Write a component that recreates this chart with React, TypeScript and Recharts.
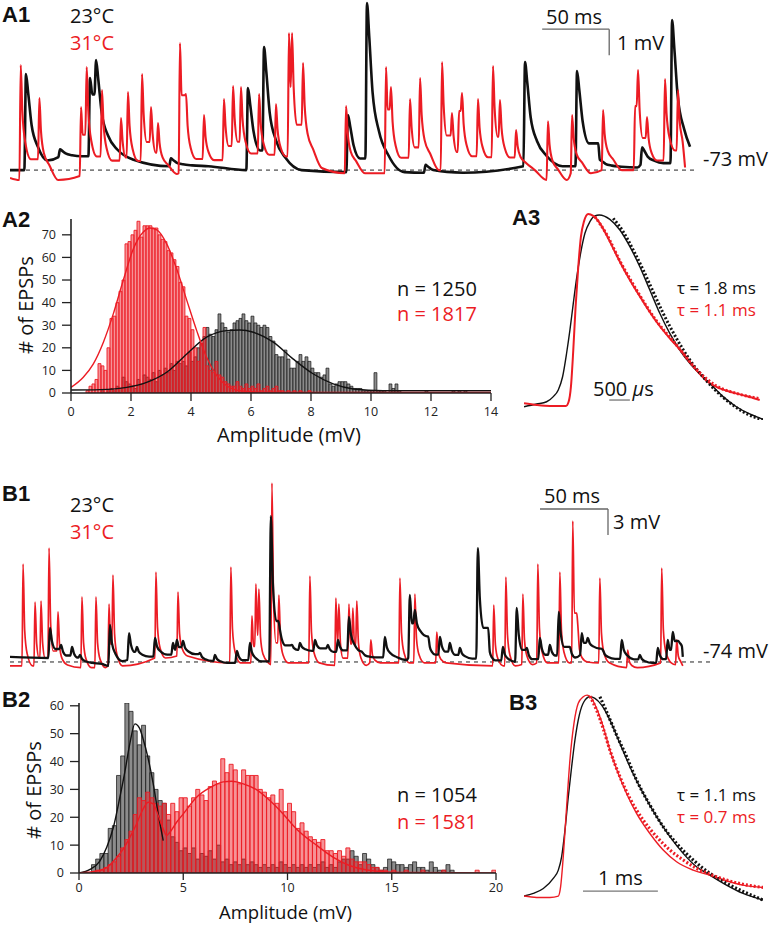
import React from 'react'
import { LineChart, Line, XAxis, YAxis, ReferenceLine, ComposedChart, Bar } from 'recharts'

const RED = '#ec1c24'
const INK = '#111111'
const FONT = '"Open Sans", "DejaVu Sans", sans-serif'
const BOLD = '"Liberation Sans", Arial, sans-serif'

type Ev = [number, number, number] // time (ms), baseline (mV), peak (mV)
type Pt = [number, number]

// ---- A1: spontaneous EPSPs, 23 vs 31 degC ----
const a1Black: Ev[] = [
  [11.9, -73.0, -69.31], [37.3, -72.5, -72.2], [59.7, -72.6, -69.46], [64.2, -72.6, -68.77],
  [120.0, -72.85, -72.55], [177.5, -73.0, -69.85], [189.5, -73.0, -68.27], [252.1, -73.08, -70.88],
  [266.3, -73.08, -66.58], [310.0, -73.1, -72.8], [384.2, -72.85, -68.85], [423.0, -72.85, -69.19],
  [440.0, -72.9, -72.6], [471.5, -72.8, -72.12], [493.9, -72.75, -67.23],
]
const a1Red: Ev[] = [
  [8.0, -73.38, -68.96], [21.9, -73.38, -70.23], [53.0, -73.23, -70.58], [57.2, -73.23, -69.04],
  [68.6, -73.23, -69.92], [82.8, -73.23, -71.0], [88.0, -73.23, -70.0], [98.5, -73.15, -69.31],
  [105.2, -73.15, -70.58], [110.4, -73.15, -71.19], [126.8, -73.12, -68.12], [131.3, -73.12, -70.08],
  [144.7, -73.0, -70.88], [159.6, -72.92, -70.27], [166.4, -72.92, -69.77], [172.3, -72.92, -69.81],
  [185.8, -72.92, -70.08], [198.4, -72.92, -70.46], [208.1, -72.92, -67.73], [210.4, -72.92, -67.73],
  [218.6, -72.92, -68.88], [250.7, -73.12, -70.54], [280.5, -73.12, -69.04], [284.2, -73.12, -69.81],
  [298.4, -73.0, -70.27], [305.9, -73.0, -69.46], [322.3, -73.0, -68.85], [329.7, -73.0, -70.81],
  [335.0, -73.0, -70.73], [337.2, -73.0, -70.04], [349.1, -73.0, -70.27], [360.3, -73.0, -69.0],
  [365.5, -73.0, -70.31], [377.5, -73.0, -71.46], [401.3, -73.38, -71.12], [419.3, -73.12, -70.88],
  [442.4, -73.0, -70.69], [466.3, -73.0, -70.54], [468.5, -73.0, -69.15], [475.2, -73.0, -70.96],
  [488.6, -72.85, -69.5], [498.3, -72.85, -69.92],
]
const a1BlackEnds: Pt[] = [[0, -73.0], [507.3, -72.1]]
const a1RedEnds: Pt[] = [[0, -73.3], [503.6, -72.9]]
// EPSP waveform: [ms from peak, fraction of peak]
const a1BlackShape: Pt[] = [[-1.2, 0], [0, 1], [1.7, 0.8], [4.2, 0.47], [9, 0.24], [16, 0.1], [28, 0]]
const a1RedShape: Pt[] = [[-1.0, 0], [0, 1], [1.2, 0.6], [3.5, 0.32], [7.5, 0.18], [14, 0]]

// ---- B1 ----
const b1Black: Ev[] = [
  [29.4, -73.54, -70.08], [37.5, -73.77, -72.04], [45.6, -74.0, -72.27], [51.5, -74.23, -73.19],
  [73.5, -74.46, -69.73], [87.5, -73.77, -70.66], [93.3, -73.54, -72.27], [106.6, -73.42, -71.23],
  [119.8, -73.54, -71.81], [122.7, -73.31, -71.46], [127.2, -73.31, -71.58], [139.7, -74.0, -72.96],
  [150.7, -74.23, -73.19], [166.8, -74.23, -72.73], [176.4, -74.23, -71.81], [191.8, -74.46, -57.17],
  [198.5, -72.85, -70.31], [207.3, -72.85, -72.04], [213.2, -72.85, -71.81], [224.2, -72.85, -71.46],
  [233.7, -73.19, -72.04], [241.1, -73.19, -71.46], [249.2, -73.31, -68.81], [259.5, -73.54, -72.96],
  [275.6, -73.77, -71.12], [294.0, -73.54, -66.27], [297.7, -71.46, -68.0], [308.7, -73.54, -72.27],
  [316.1, -73.54, -71.12], [323.4, -73.77, -71.81], [330.8, -73.77, -72.39], [344.0, -74.0, -60.86],
  [352.8, -74.23, -72.85], [362.4, -74.23, -72.27], [372.6, -74.69, -67.77], [380.0, -74.23, -72.39],
  [389.6, -74.0, -71.23], [396.9, -73.77, -72.04], [403.5, -74.0, -68.23], [411.6, -74.0, -72.27],
  [420.4, -73.19, -70.66], [424.8, -72.62, -71.23], [435.9, -73.77, -72.62], [449.8, -74.0, -71.46],
  [463.1, -74.23, -73.19], [476.3, -74.23, -72.39], [483.6, -74.0, -71.46], [487.3, -72.85, -70.54],
  [492.5, -72.62, -71.81],
]
const b1Red: Ev[] = [
  [9.6, -74.45, -62.7], [18.4, -74.45, -67.08], [22.8, -74.45, -66.97], [28.7, -74.35, -60.86],
  [35.3, -74.35, -68.23], [52.9, -74.65, -66.5], [63.2, -74.65, -66.5], [72.8, -74.45, -67.31],
  [75.7, -74.45, -63.97], [107.3, -73.54, -63.62], [123.5, -73.31, -65.93], [162.4, -74.1, -63.05],
  [177.9, -74.1, -68.69], [180.8, -74.1, -65.0], [183.0, -74.1, -65.58], [192.6, -74.3, -53.36],
  [197.7, -74.1, -66.27], [220.5, -74.1, -64.08], [239.6, -74.4, -66.62], [241.8, -74.4, -67.31],
  [249.2, -74.4, -67.31], [252.1, -74.4, -67.77], [255.0, -74.4, -66.97], [265.3, -74.1, -71.46],
  [286.7, -74.1, -64.31], [297.7, -74.1, -66.16], [313.8, -74.1, -70.54], [355.7, -74.45, -67.43],
  [364.6, -74.45, -64.2], [377.1, -74.3, -66.16], [388.1, -74.1, -62.7], [404.3, -74.1, -63.62],
  [413.8, -74.1, -57.74], [417.5, -74.0, -69.73], [433.7, -74.1, -64.31], [454.2, -74.65, -72.62],
  [479.2, -74.1, -63.16], [490.2, -74.3, -71.46],
]
const b1BlackEnds: Pt[] = [[0, -73.42], [494.7, -73.42]]
const b1RedEnds: Pt[] = [[0, -74.45], [494.7, -74.45]]
const b1BlackShape: Pt[] = [[-1.2, 0], [0, 1], [1.5, 0.55], [4, 0.3], [9, 0.12], [16, 0]]
const b1RedShape: Pt[] = [[-0.8, 0], [0, 1], [1.2, 0.35], [3, 0.12], [7, 0]]

// ---- A2 / B2 amplitude histograms (counts per bin) ----
const a2Bin = 0.1
const a2RedStart = 0.5
const a2Red = [
  1, 3, 4, 6, 13, 12, 10, 20, 33, 34,
  40, 45, 50, 66, 67, 70, 72, 76, 69, 74,
  74, 74, 73, 73, 70, 68, 67, 63, 62, 59,
  56, 49, 47, 34, 33, 28, 20, 14, 22, 29,
  12, 10, 9, 14, 8, 7, 5, 4, 3, 3,
  5, 3, 2, 4, 2, 3, 2, 4, 1, 2,
  3, 1, 2, 3, 1, 1, 0, 1, 0, 1,
  0, 1, 0, 0, 1,
]
const a2BlackStart = 1.0
const a2Black = [
  1, 0, 1, 2, 1, 3, 2, 7, 5, 4,
  3, 2, 6, 4, 8, 7, 6, 9, 5, 10,
  8, 11, 9, 13, 10, 14, 13, 14, 12, 18,
  14, 16, 20, 22, 25, 29, 26, 25, 28, 35,
  31, 29, 27, 28, 31, 32, 33, 35, 32, 31,
  34, 31, 30, 29, 30, 29, 25, 23, 17, 16,
  16, 19, 15, 11, 11, 14, 17, 14, 16, 14,
  11, 9, 9, 7, 8, 11, 4, 3, 4, 5,
  5, 5, 4, 3, 2, 2, 2, 1, 1, 1,
  1, 9, 1, 1, 1, 0, 4, 2, 4, 1,
  0, 0, 0, 0, 0, 0, 0, 0, 1, 0,
  0, 0, 0, 0, 0, 0, 0, 1, 0, 1,
  0, 1,
]
const a2RedFit: Pt[] = [
  [0, 2.5], [0.41, 7], [0.74, 12.8], [1.08, 22.5], [1.41, 35], [1.74, 49.8], [2.08, 63.8], [2.41, 71.2],
  [2.63, 73], [2.86, 72.2], [3.19, 66], [3.52, 55], [3.86, 41], [4.19, 27.6], [4.52, 15.8], [4.86, 7.7],
  [5.19, 3.2], [5.63, 1], [6.5, 0.3], [8, 0.2], [14, 0.2],
]
const a2BlackFit: Pt[] = [
  [0, 1.3], [0.97, 1.5], [1.86, 2.5], [2.52, 4.7], [3.19, 9.2], [3.86, 17.3], [4.52, 24.7], [5.19, 27.6],
  [5.63, 27.9], [6.08, 26.9], [6.74, 22.5], [7.41, 15], [8.08, 8.4], [8.74, 4], [9.41, 1.8], [10.41, 1], [14, 1],
]

const b2Bin = 0.2
const b2RedStart = 0.6
const b2Red = [
  0, 1, 1, 2, 3, 4, 6, 9, 12, 15,
  21, 27, 26, 29, 27, 25, 24, 25, 21, 25,
  22, 27, 27, 24, 27, 30, 28, 26, 31, 33,
  32, 41, 36, 39, 37, 32, 37, 35, 35, 35,
  30, 29, 27, 28, 25, 30, 22, 25, 22, 16,
  18, 15, 13, 12, 11, 12, 8, 8, 7, 8,
  6, 9, 5, 4, 4, 4, 3, 2, 2, 1,
  1, 0, 1, 0, 0, 1, 0, 0, 0, 1,
  0, 0, 0, 0, 1, 0, 0, 0, 0, 0,
  0, 0, 1, 0, 0, 0, 1,
]
const b2BlackStart = 0.6
const b2Black = [
  3, 5, 7, 7, 16, 17, 35, 42, 61, 58,
  51, 46, 53, 42, 36, 30, 26, 25, 19, 13,
  11, 8, 9, 7, 9, 5, 7, 6, 8, 5,
  10, 4, 5, 3, 4, 3, 5, 3, 4, 3,
  2, 3, 2, 3, 2, 4, 3, 2, 3, 2,
  3, 2, 3, 2, 3, 4, 2, 3, 2, 4,
  5, 5, 8, 6, 3, 7, 5, 3, 2, 1,
  2, 5, 4, 3, 3, 2, 3, 4, 2, 2,
  1, 4, 2, 1, 1, 3, 1,
]
const b2RedFit: Pt[] = [
  [0, 0], [0.85, 0.7], [1.33, 1.9], [1.8, 5.5], [2.12, 8.6], [2.44, 12.8], [2.76, 17.6], [3.0, 21.8],
  [3.32, 25.4], [3.56, 24.8], [3.8, 20.6], [4.04, 15.8], [4.2, 13.4], [4.36, 14.6], [4.68, 18.2],
  [5.0, 21.2], [5.64, 27.2], [6.28, 30.6], [6.92, 32.7], [7.32, 32.9], [7.88, 32], [8.51, 29.9],
  [9.15, 26], [9.79, 21.2], [10.43, 15.8], [11.4, 9.9], [12.2, 5.6], [13, 2.6], [13.8, 1.1],
  [15.4, 0.2], [19.9, 0],
]
const b2BlackFit: Pt[] = [
  [0, 0], [0.53, 1.3], [1.0, 4.3], [1.33, 9.2], [1.65, 16.4], [1.96, 27.2], [2.2, 36.3], [2.44, 46.5],
  [2.68, 53.5], [2.9, 52], [3.08, 48], [3.32, 41], [3.56, 32], [3.8, 21.2], [4.04, 11.6],
]

// ---- A3 / B3 normalised average EPSPs: [ms, fraction of peak] ----
const a3Black: Pt[] = [
  [0, -0.009], [0.306, 0.005], [0.548, 0.017], [0.71, 0.044], [0.83, 0.079], [0.935, 0.148], [1.032, 0.271],
  [1.113, 0.393], [1.194, 0.532], [1.274, 0.663], [1.371, 0.794], [1.476, 0.899], [1.597, 0.96], [1.718, 0.99],
  [1.823, 0.995], [2.081, 0.972], [2.323, 0.916], [2.565, 0.829], [2.806, 0.724], [3.048, 0.602], [3.29, 0.48],
  [3.532, 0.375], [3.774, 0.288], [4.016, 0.218], [4.258, 0.162], [4.5, 0.113], [4.823, 0.044], [5.145, -0.009],
  [5.468, -0.047], [5.79, -0.075],
]
const a3Red: Pt[] = [
  [0, 0.009], [0.306, 0], [0.629, -0.005], [1.016, -0.005], [1.081, 0.017], [1.137, 0.096], [1.194, 0.288],
  [1.25, 0.515], [1.315, 0.724], [1.379, 0.881], [1.452, 0.96], [1.556, 1.0], [1.677, 0.99], [1.839, 0.951],
  [2.0, 0.89], [2.161, 0.82], [2.323, 0.75], [2.565, 0.654], [2.887, 0.541], [3.21, 0.436], [3.532, 0.349],
  [3.855, 0.271], [4.177, 0.183], [4.419, 0.127], [4.742, 0.087], [5.065, 0.065], [5.387, 0.047], [5.71, 0.026],
]
const a3BlackFit: Pt[] = [
  [2.161, 0.977], [2.403, 0.907], [2.645, 0.812], [2.887, 0.707], [3.129, 0.593], [3.371, 0.48], [3.694, 0.349],
  [4.016, 0.236], [4.419, 0.127], [4.823, 0.04], [5.306, -0.035], [5.79, -0.079],
]
const a3RedFit: Pt[] = [
  [1.718, 0.986], [2.0, 0.894], [2.323, 0.754], [2.726, 0.602], [3.21, 0.44], [3.694, 0.314], [4.177, 0.187],
  [4.661, 0.1], [5.145, 0.061], [5.71, 0.033],
]
const b3Black: Pt[] = [
  [0, 0], [0.124, 0.013], [0.258, 0.038], [0.391, 0.089], [0.458, 0.13], [0.502, 0.197], [0.547, 0.331],
  [0.591, 0.498], [0.636, 0.649], [0.68, 0.783], [0.738, 0.908], [0.8, 0.975], [0.88, 1.0], [0.947, 0.992],
  [1.036, 0.958], [1.147, 0.883], [1.28, 0.766], [1.413, 0.649], [1.591, 0.515], [1.769, 0.398], [1.947, 0.298],
  [2.124, 0.214], [2.302, 0.147], [2.48, 0.105], [2.702, 0.055], [2.924, 0.013], [3.191, -0.02],
]
const b3Red: Pt[] = [
  [0, 0], [0.169, -0.007], [0.347, -0.007], [0.458, 0], [0.489, 0.047], [0.524, 0.197], [0.569, 0.448],
  [0.613, 0.682], [0.667, 0.866], [0.724, 0.967], [0.791, 1.0], [0.844, 1.008], [0.902, 0.992], [0.969, 0.941],
  [1.058, 0.849], [1.147, 0.732], [1.258, 0.615], [1.369, 0.515], [1.502, 0.415], [1.68, 0.314], [1.858, 0.231],
  [2.036, 0.172], [2.258, 0.13], [2.48, 0.105], [2.702, 0.077], [2.924, 0.055], [3.191, 0.043],
]
const b3BlackFit: Pt[] = [
  [1.013, 1.0], [1.102, 0.925], [1.236, 0.808], [1.369, 0.699], [1.502, 0.582], [1.68, 0.457], [1.858, 0.348],
  [2.036, 0.264], [2.258, 0.181], [2.48, 0.114], [2.702, 0.064], [2.924, 0.023], [3.191, -0.02],
]
const b3RedFit: Pt[] = [
  [0.88, 1.003], [0.969, 0.933], [1.058, 0.84], [1.147, 0.732], [1.28, 0.599], [1.413, 0.49], [1.591, 0.381],
  [1.769, 0.298], [1.947, 0.231], [2.124, 0.181], [2.302, 0.139], [2.48, 0.11], [2.702, 0.08], [2.924, 0.059],
  [3.191, 0.043],
]

// scale bars: anchor [t, v]
const a1ScaleAt: Pt = [397, -67.58]
const b1ScaleAt: Pt = [389.7, -56.35]
const a3ScaleAt: Pt = [2.065, 0.026]
const b3ScaleAt: Pt = [0.787, 0.025]

function buildTrace(events: Ev[], shape: Pt[], ends: Pt[]) {
  const pts = [{ t: ends[0][0], v: ends[0][1] }]
  const stop = ends[1][0]
  let carry = false
  events.forEach(([t, base, peak], i) => {
    const limit = i + 1 < events.length ? events[i + 1][0] + shape[0][0] : stop
    let cut = false
    shape.forEach(([dt, f], k) => {
      const tt = t + dt
      if (k > 0 && tt >= limit) { cut = true; return }
      if (tt >= stop) return
      const last = pts[pts.length - 1]
      let v = base + f * (peak - base)
      if (k === 0) {
        if (tt <= last.t) return
        if (carry) v = Math.max(v, last.v)
      }
      pts.push({ t: tt, v })
    })
    carry = cut
  })
  pts.push({ t: stop, v: ends[1][1] })
  return pts
}

const toTV = (a: Pt[]) => a.map(([t, v]) => ({ t, v }))

type Row = { x: number; red?: number; blk?: number }
function buildBins(bin: number, xMax: number, redStart: number, red: number[], blkStart: number, blk: number[]) {
  const rows: Row[] = []
  const n = Math.round(xMax / bin)
  for (let i = 0; i < n; i++) {
    const lo = i * bin
    const r = red[Math.round((lo - redStart) / bin)]
    const b = blk[Math.round((lo - blkStart) / bin)]
    if (r === undefined && b === undefined) continue
    rows.push({ x: Math.round((lo + bin / 2) * 1000) / 1000, red: r, blk: b })
  }
  return rows
}

const noDot = { dot: false, activeDot: false, isAnimationActive: false } as const

function Txt({ x, y, size = 20, color = INK, bold = false, children }: any) {
  return (
    <div
      style={{
        position: 'absolute', left: x, top: y, fontSize: size, lineHeight: `${size}px`, color,
        fontWeight: bold ? 700 : 400, fontFamily: bold ? BOLD : FONT, whiteSpace: 'nowrap',
      }}
    >
      {children}
    </div>
  )
}

function VLabel({ cx, cy, children }: any) {
  return (
    <div
      style={{
        position: 'absolute', left: cx - 70, top: cy - 10, width: 140, height: 20, lineHeight: '20px',
        textAlign: 'center', transform: 'rotate(-90deg)', fontSize: 20, fontFamily: FONT, color: INK,
      }}
    >
      {children}
    </div>
  )
}

function TraceChart({ x, y, width, height, xMax, yDomain, under, over, base, scale, dv, dt, underW, overW }: any) {
  return (
    <div style={{ position: 'absolute', left: x, top: y }}>
      <LineChart width={width} height={height} margin={{ top: 0, right: 0, bottom: 0, left: 0 }}>
        <XAxis type="number" dataKey="t" domain={[0, xMax]} hide allowDataOverflow />
        <YAxis type="number" domain={yDomain} hide allowDataOverflow />
        <ReferenceLine y={base} stroke="#222" strokeDasharray="4 4" strokeWidth={1} />
        <ReferenceLine segment={[{ x: scale[0], y: scale[1] }, { x: scale[0] + dt, y: scale[1] }]} stroke="#666" strokeWidth={1.3} ifOverflow="visible" />
        <ReferenceLine segment={[{ x: scale[0] + dt, y: scale[1] }, { x: scale[0] + dt, y: scale[1] - dv }]} stroke="#666" strokeWidth={1.3} ifOverflow="visible" />
        <Line data={under.data} dataKey="v" type="monotone" stroke={under.color} strokeWidth={underW} strokeLinejoin="round" {...noDot} />
        <Line data={over.data} dataKey="v" type="monotone" stroke={over.color} strokeWidth={overW} strokeLinejoin="round" {...noDot} />
      </LineChart>
    </div>
  )
}

function AvgChart({ x, y, width, height, xMax, yDomain, black, red, blackFit, redFit, scale, dt, redW, fitW }: any) {
  return (
    <div style={{ position: 'absolute', left: x, top: y }}>
      <LineChart width={width} height={height} margin={{ top: 0, right: 0, bottom: 0, left: 0 }}>
        <XAxis type="number" dataKey="t" domain={[0, xMax]} hide allowDataOverflow />
        <YAxis type="number" domain={yDomain} hide allowDataOverflow />
        <ReferenceLine segment={[{ x: scale[0], y: scale[1] }, { x: scale[0] + dt, y: scale[1] }]} stroke="#777" strokeWidth={1.3} ifOverflow="visible" />
        <Line data={toTV(black)} dataKey="v" type="monotone" stroke={INK} strokeWidth={1.4} {...noDot} />
        <Line data={toTV(red)} dataKey="v" type="monotone" stroke={RED} strokeWidth={redW} {...noDot} />
        <Line data={toTV(blackFit)} dataKey="v" type="monotone" stroke={INK} strokeWidth={fitW} strokeDasharray="2 2" {...noDot} />
        <Line data={toTV(redFit)} dataKey="v" type="monotone" stroke={RED} strokeWidth={fitW} strokeDasharray="2 2" {...noDot} />
      </LineChart>
    </div>
  )
}

function Histogram({ x, y, rows, redFit, blackFit, xMax, xTicks, yMax, yTicks, axisW, width, height, barSize, xTickSize, xTickMargin }: any) {
  const tick = { fontSize: 12.5, fill: '#222', fontFamily: FONT }
  const axisLine = { stroke: '#222', strokeWidth: 1.6 }
  const tickLine = { stroke: '#222', strokeWidth: 1.3 }
  return (
    <div style={{ position: 'absolute', left: x, top: y }}>
      <ComposedChart width={width} height={height} data={rows} margin={{ top: 10, right: 10, bottom: 0, left: 0 }}>
        <XAxis xAxisId="bars" type="number" dataKey="x" domain={[0, xMax]} ticks={xTicks} interval={0} height={30}
          tickSize={xTickSize} tickMargin={xTickMargin} tick={tick} axisLine={axisLine} tickLine={tickLine} allowDataOverflow />
        <XAxis xAxisId="under" type="number" dataKey="x" domain={[0, xMax]} hide allowDataOverflow />
        <XAxis xAxisId="fit" type="number" dataKey="x" domain={[0, xMax]} hide allowDataOverflow />
        <YAxis type="number" domain={[0, yMax]} ticks={yTicks} interval={0} width={axisW} tickSize={9} tickMargin={6}
          tick={tick} axisLine={axisLine} tickLine={tickLine} allowDataOverflow />
        <Bar xAxisId="under" dataKey="blk" barSize={barSize} fill="#8c8c8c" stroke={INK} strokeWidth={0.7} isAnimationActive={false} />
        <Bar xAxisId="bars" dataKey="red" barSize={barSize} fill={RED} fillOpacity={0.48} stroke={RED} strokeWidth={0.9} isAnimationActive={false} />
        <Line xAxisId="fit" data={blackFit.map(([a, b]: Pt) => ({ x: a, y: b }))} dataKey="y" type="monotone" stroke={INK} strokeWidth={1.4} {...noDot} />
        <Line xAxisId="fit" data={redFit.map(([a, b]: Pt) => ({ x: a, y: b }))} dataKey="y" type="monotone" stroke={RED} strokeWidth={1.4} {...noDot} />
      </ComposedChart>
    </div>
  )
}

export default function App() {
  const a1B = buildTrace(a1Black, a1BlackShape, a1BlackEnds)
  const a1R = buildTrace(a1Red, a1RedShape, a1RedEnds)
  const b1B = buildTrace(b1Black, b1BlackShape, b1BlackEnds)
  const b1R = buildTrace(b1Red, b1RedShape, b1RedEnds)
  const a2Rows = buildBins(a2Bin, 14, a2RedStart, a2Red, a2BlackStart, a2Black)
  const b2Rows = buildBins(b2Bin, 20, b2RedStart, b2Red, b2BlackStart, b2Black)

  return (
    <div style={{ position: 'absolute', left: 0, top: 0, width: 775, height: 926, background: '#fff', overflow: 'hidden', fontFamily: FONT }}>
      {/* A1 */}
      <TraceChart x={10} y={0} width={685} height={200} xMax={511} yDomain={[-74.15, -66.46]}
        under={{ data: a1B, color: INK }} over={{ data: a1R, color: RED }} underW={2.6} overW={2.1}
        base={-73} scale={a1ScaleAt} dt={50} dv={1} />
      <Txt x={2} y={4} size={22} bold>A1</Txt>
      <Txt x={70} y={6}>23°C</Txt>
      <Txt x={70} y={33} color={RED}>31°C</Txt>
      <Txt x={546} y={7}>50 ms</Txt>
      <Txt x={617} y={33}>1 mV</Txt>
      <Txt x={703} y={149}>-73 mV</Txt>

      {/* A2 */}
      <Histogram x={0} y={209} rows={a2Rows} redFit={a2RedFit} blackFit={a2BlackFit} xMax={14}
        xTicks={[0, 2, 4, 6, 8, 10, 12, 14]} yMax={77} yTicks={[0, 10, 20, 30, 40, 50, 60, 70]}
        axisW={71} width={501} height={214} barSize={2.9} xTickSize={8} xTickMargin={6} />
      <Txt x={2} y={209} size={22} bold>A2</Txt>
      <VLabel cx={26} cy={305}># of EPSPs</VLabel>
      <Txt x={217} y={425}>Amplitude (mV)</Txt>
      <Txt x={397} y={279}>n = 1250</Txt>
      <Txt x={397} y={304} color={RED}>n = 1817</Txt>

      {/* A3 */}
      <AvgChart x={524} y={205} width={239} height={215} xMax={5.79} yDomain={[-0.0785, 1.047]}
        black={a3Black} red={a3Red} blackFit={a3BlackFit} redFit={a3RedFit} scale={a3ScaleAt} dt={0.5}
        redW={2} fitW={3} />
      <Txt x={512} y={207} size={22} bold>A3</Txt>
      <Txt x={677} y={279} size={17}>τ = 1.8 ms</Txt>
      <Txt x={677} y={301} size={17} color={RED}>τ = 1.1 ms</Txt>
      <Txt x={593} y={379}>500 <i>µ</i>s</Txt>

      {/* B1 */}
      <TraceChart x={10} y={470} width={700} height={210} xMax={514.7} yDomain={[-76.08, -51.85]}
        under={{ data: b1R, color: RED }} over={{ data: b1B, color: INK }} underW={1.7} overW={2.3}
        base={-74} scale={b1ScaleAt} dt={50} dv={3} />
      <Txt x={2} y={483} size={22} bold>B1</Txt>
      <Txt x={70} y={495}>23°C</Txt>
      <Txt x={70} y={522} color={RED}>31°C</Txt>
      <Txt x={544} y={486}>50 ms</Txt>
      <Txt x={613} y={512}>3 mV</Txt>
      <Txt x={703} y={641}>-74 mV</Txt>

      {/* B2 */}
      <Histogram x={0} y={693} rows={b2Rows} redFit={b2RedFit} blackFit={b2BlackFit} xMax={20}
        xTicks={[0, 5, 10, 15, 20]} yMax={61} yTicks={[0, 10, 20, 30, 40, 50, 60]}
        axisW={79} width={506} height={210} barSize={4} xTickSize={7} xTickMargin={3} />
      <Txt x={2} y={689} size={22} bold>B2</Txt>
      <VLabel cx={34} cy={790}># of EPSPs</VLabel>
      <Txt x={219} y={903} size={18.5}>Amplitude (mV)</Txt>
      <Txt x={397} y={785}>n = 1054</Txt>
      <Txt x={397} y={812} color={RED}>n = 1581</Txt>

      {/* B3 */}
      <AvgChart x={524} y={688} width={239} height={222} xMax={3.19} yDomain={[-0.07, 1.044]}
        black={b3Black} red={b3Red} blackFit={b3BlackFit} redFit={b3RedFit} scale={b3ScaleAt} dt={1}
        redW={1.4} fitW={3.2} />
      <Txt x={509} y={692} size={22} bold>B3</Txt>
      <Txt x={677} y={786} size={17}>τ = 1.1 ms</Txt>
      <Txt x={677} y={808} size={17} color={RED}>τ = 0.7 ms</Txt>
      <Txt x={598} y={868}>1 ms</Txt>
    </div>
  )
}
